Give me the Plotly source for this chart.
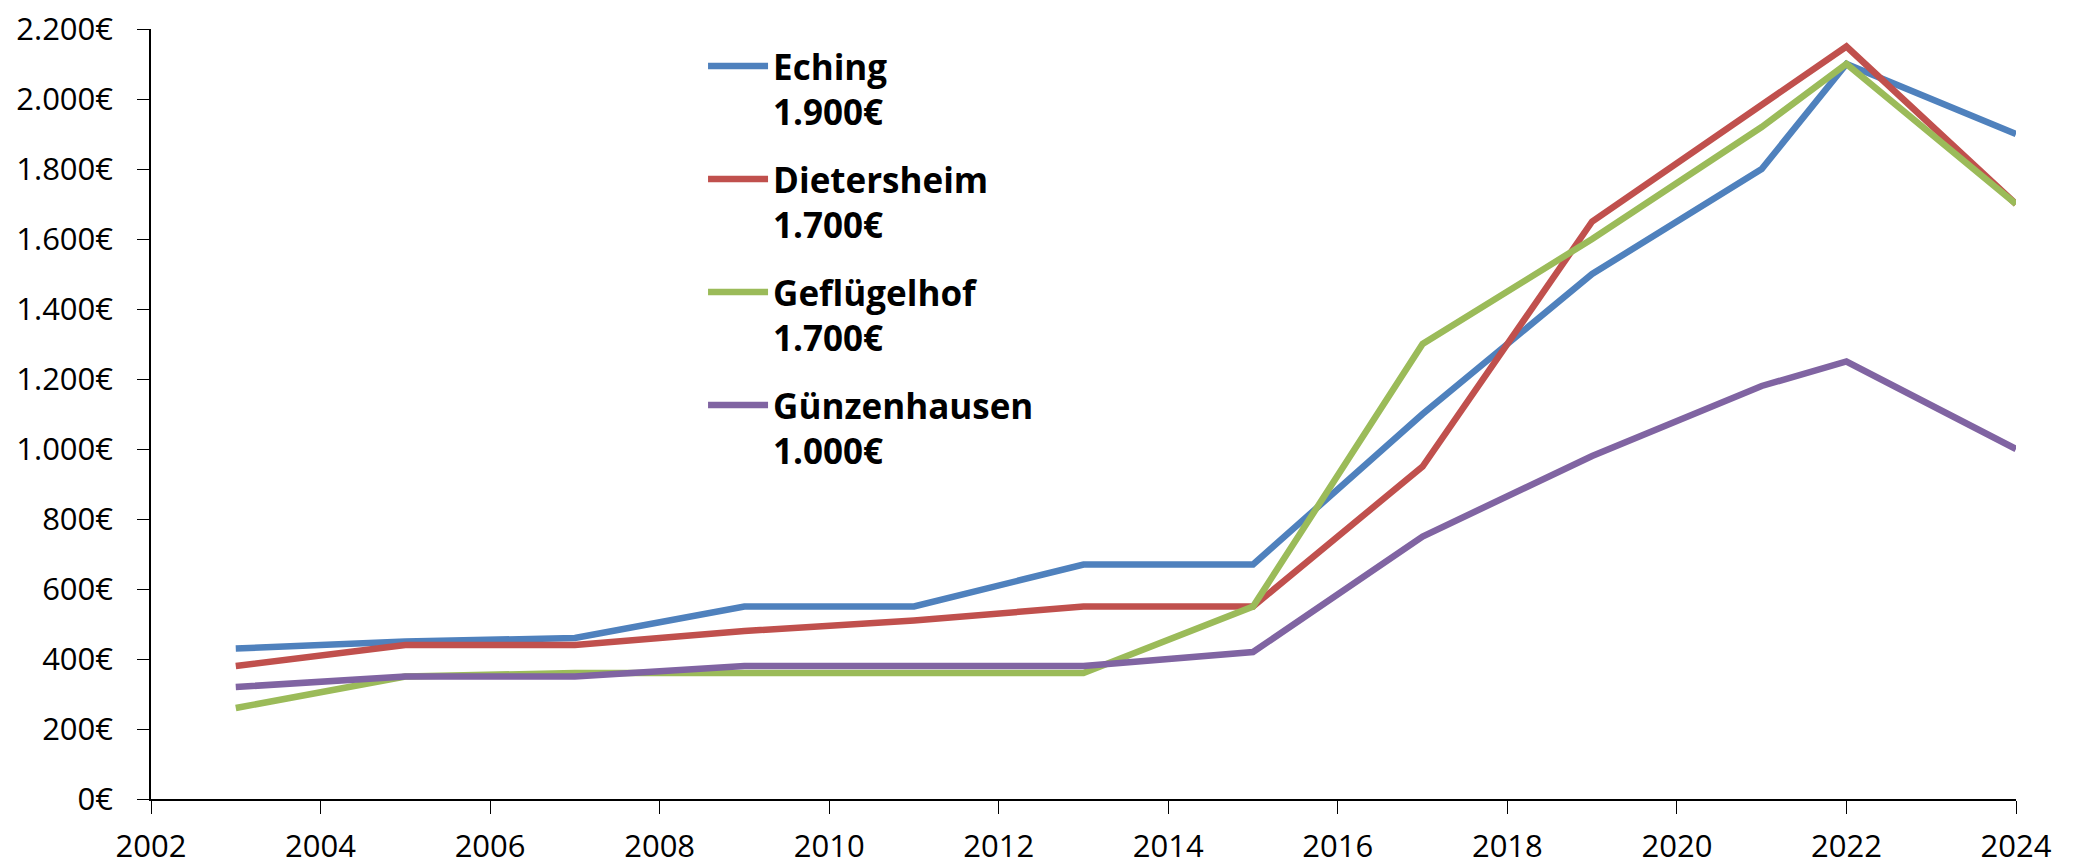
import plotly.graph_objects as go

years = [2003, 2005, 2007, 2009, 2011, 2013, 2015, 2017, 2019, 2021, 2022, 2024]

eching = [430, 450, 460, 550, 550, 670, 670, 1100, 1500, 1800, 2100, 1900]
dietersheim = [380, 440, 440, 480, 510, 550, 550, 950, 1650, 1980, 2150, 1700]
gefluegelhof = [260, 350, 360, 360, 360, 360, 550, 1300, 1600, 1920, 2100, 1700]
guenzenhausen = [320, 350, 350, 380, 380, 380, 420, 750, 980, 1180, 1250, 1000]

names = ['Eching', 'Dietersheim', 'Geflügelhof', 'Günzenhausen']
latest = ['1.900€', '1.700€', '1.700€', '1.000€']
series = [eching, dietersheim, gefluegelhof, guenzenhausen]
colors = ['#4F81BD', '#C0504D', '#9BBB59', '#8064A2']

fig = go.Figure()

for name, last, vals, col in zip(names, latest, series, colors):
    fig.add_trace(go.Scatter(
        x=years,
        y=vals,
        mode='lines',
        name=f'<b>{name}<br>{last}</b>',
        legendgroup=name,
        line=dict(color=col, width=6.5),
    ))

fig.update_layout(
    width=2078,
    height=862,
    template='simple_white',
    separators=',.',
    margin=dict(l=143, r=70, t=21, b=71, autoexpand=False),
    font=dict(family='Open Sans, Lato, sans-serif', size=31, color='black'),
    legend=dict(
        x=0.296, y=0.99, xanchor='left', yanchor='top',
        font=dict(size=35, color='black'),
        valign='top',
        itemwidth=60,
        tracegroupgap=19,
        bgcolor='rgba(0,0,0,0)',
    ),
)

fig.update_xaxes(
    range=[2002, 2024], dtick=2, tick0=2002, tickformat='d',
    showline=True, linecolor='black', linewidth=1.5,
    ticks='outside', ticklen=13, tickcolor='black',
    showgrid=False, zeroline=False, automargin=False,
    ticklabelstandoff=6,
)
fig.update_yaxes(
    range=[0, 2200], dtick=200, tickformat=',.0f', ticksuffix='€',
    showline=True, linecolor='black', linewidth=1.5,
    ticks='outside', ticklen=12, tickcolor='black',
    showgrid=False, zeroline=False, automargin=False,
    ticklabelstandoff=18, ticklabeloverflow='allow',
)

fig.write_html('out.html')
